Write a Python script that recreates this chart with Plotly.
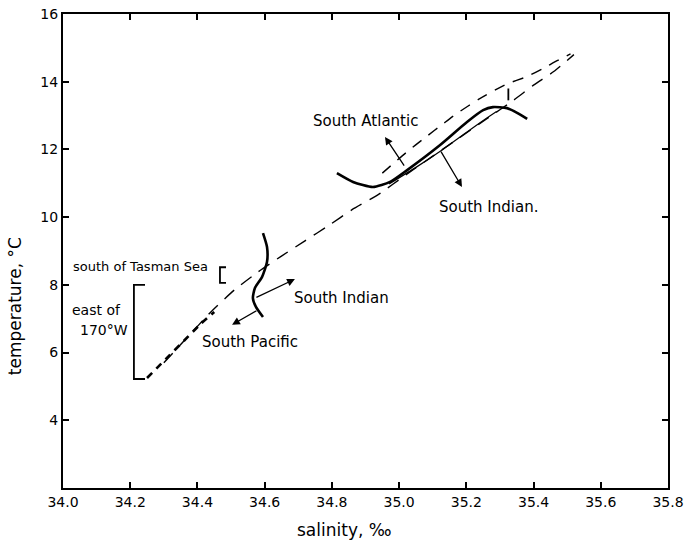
import plotly.graph_objects as go

# ---------------- data ----------------
# South Atlantic central water (thick solid)
atl_s = [34.815, 34.863, 34.922, 34.973, 35.024, 35.122, 35.202, 35.250, 35.279, 35.321, 35.351, 35.381]
atl_t = [11.30, 11.04, 10.89, 11.04, 11.39, 12.13, 12.81, 13.16, 13.25, 13.22, 13.08, 12.90]

# South Indian thin solid (close below the Atlantic curve)
ind_s = [34.97, 35.05, 35.13, 35.20, 35.26, 35.29]
ind_t = [10.98, 11.47, 12.00, 12.50, 12.92, 13.12]

# lower-left solid curve (South Indian / South Pacific junction)
sw_s = [34.595, 34.607, 34.607, 34.592, 34.571, 34.565, 34.574, 34.595]
sw_t = [9.53, 9.12, 8.68, 8.23, 7.91, 7.61, 7.35, 7.05]

# main long-dashed T-S line
main_s = [34.30, 34.37, 34.44, 34.51, 34.58, 34.65, 34.72, 34.79, 34.86, 34.94,
          35.02, 35.10, 35.18, 35.26, 35.34, 35.40, 35.46, 35.52]
main_t = [5.70, 6.45, 7.20, 7.85, 8.38, 8.85, 9.30, 9.75, 10.22, 10.68,
          11.25, 11.80, 12.35, 12.90, 13.45, 13.90, 14.30, 14.80]

# upper dashed line (above the Atlantic curve)
up_s = [34.95, 35.02, 35.08, 35.13, 35.17, 35.24, 35.32, 35.38, 35.43, 35.47, 35.51]
up_t = [11.30, 11.90, 12.37, 12.75, 13.05, 13.50, 13.93, 14.15, 14.40, 14.62, 14.82]

# east of 170 W (thick short dashes)
east_s = [34.25, 34.31, 34.36, 34.41, 34.45]
east_t = [5.25, 5.85, 6.35, 6.85, 7.20]

# small marks
tick_s = [35.325, 35.325]
tick_t = [13.45, 13.80]

# brackets
tas_br_s = [34.485, 34.467, 34.467, 34.485]
tas_br_t = [8.52, 8.52, 8.06, 8.06]
east_br_s = [34.244, 34.211, 34.211, 34.244]
east_br_t = [8.00, 8.00, 5.22, 5.22]

# axis ticks
x_ticks = [34.0, 34.2, 34.4, 34.6, 34.8, 35.0, 35.2, 35.4, 35.6, 35.8]
x_labels = ["34.0", "34.2", "34.4", "34.6", "34.8", "35.0", "35.2", "35.4", "35.6", "35.8"]
y_ticks = [4, 6, 8, 10, 12, 14, 16]
y_labels = ["4", "6", "8", "10", "12", "14", "16"]

# labels: (text, s, t, xanchor, size)
labels = [
    ("South Atlantic", 34.899, 12.84, "center", 15),
    ("South Indian.", 35.113, 10.30, "left", 15),
    ("South Indian", 34.681, 7.61, "left", 15),
    ("South Pacific", 34.408, 6.31, "left", 15),
    ("south of Tasman Sea", 34.437, 8.53, "right", 13),
    ("east of", 34.021, 7.26, "left", 14),
    ("170°W", 34.045, 6.67, "left", 14),
]

# arrows: (tail_s, tail_t, head_s, head_t)
arrows = [
    (34.571, 7.61, 34.690, 8.17),
    (34.580, 7.26, 34.503, 6.82),
    (35.018, 11.48, 34.958, 12.37),
    (35.122, 11.98, 35.187, 10.89),
]

FONT = "DejaVu Sans"
fig = go.Figure()

def line(xs, ys, width, dash="solid"):
    fig.add_trace(go.Scatter(x=xs, y=ys, mode="lines",
                             line=dict(color="black", width=width, dash=dash, shape="spline", smoothing=0.6),
                             showlegend=False, hoverinfo="skip"))

line(main_s, main_t, 1.4, "13px,9px")
line(up_s, up_t, 1.4, "11px,9px")
line(east_s, east_t, 2.6, "7px,6px")
line(ind_s, ind_t, 1.2)
line(atl_s, atl_t, 2.6)
line(sw_s, sw_t, 2.6)
for xs, ys in [(tick_s, tick_t), (tas_br_s, tas_br_t), (east_br_s, east_br_t)]:
    fig.add_trace(go.Scatter(x=xs, y=ys, mode="lines", line=dict(color="black", width=1.8),
                             showlegend=False, hoverinfo="skip"))

for txt, s, t, xa, sz in labels:
    fig.add_annotation(x=s, y=t, text=txt, showarrow=False, xanchor=xa, yanchor="middle",
                       font=dict(family=FONT, size=sz, color="black"))

for ts, tt, hs, ht in arrows:
    fig.add_annotation(x=hs, y=ht, ax=ts, ay=tt, xref="x", yref="y", axref="x", ayref="y",
                       text="", showarrow=True, arrowhead=2, arrowsize=1.2, arrowwidth=1.3,
                       arrowcolor="black", standoff=0, startstandoff=0)

# axis titles
fig.add_annotation(x=0.466, y=-0.089, xref="paper", yref="paper", text="salinity, ‰",
                   showarrow=False, xanchor="center", yanchor="middle",
                   font=dict(family=FONT, size=17, color="black"))
fig.add_annotation(x=-0.079, y=0.384, xref="paper", yref="paper", text="temperature, °C",
                   showarrow=False, xanchor="center", yanchor="middle", textangle=-90,
                   font=dict(family=FONT, size=17, color="black"))

axis_common = dict(showgrid=False, zeroline=False, showline=True, linecolor="black", linewidth=2,
                   mirror="ticks", ticks="inside", ticklen=6, tickwidth=1.5, tickcolor="black",
                   automargin=False,
                   tickfont=dict(family=FONT, size=14, color="black"))

fig.update_xaxes(range=[34.0, 35.8], tickvals=x_ticks, ticktext=x_labels, **axis_common)
fig.update_yaxes(range=[2, 16], tickvals=y_ticks, ticktext=y_labels, **axis_common)

fig.update_layout(width=685, height=542, margin=dict(l=63, r=17, t=14, b=54, autoexpand=False),
                  plot_bgcolor="white", paper_bgcolor="white",
                  font=dict(family=FONT, color="black"))

fig.write_html("out.html")
